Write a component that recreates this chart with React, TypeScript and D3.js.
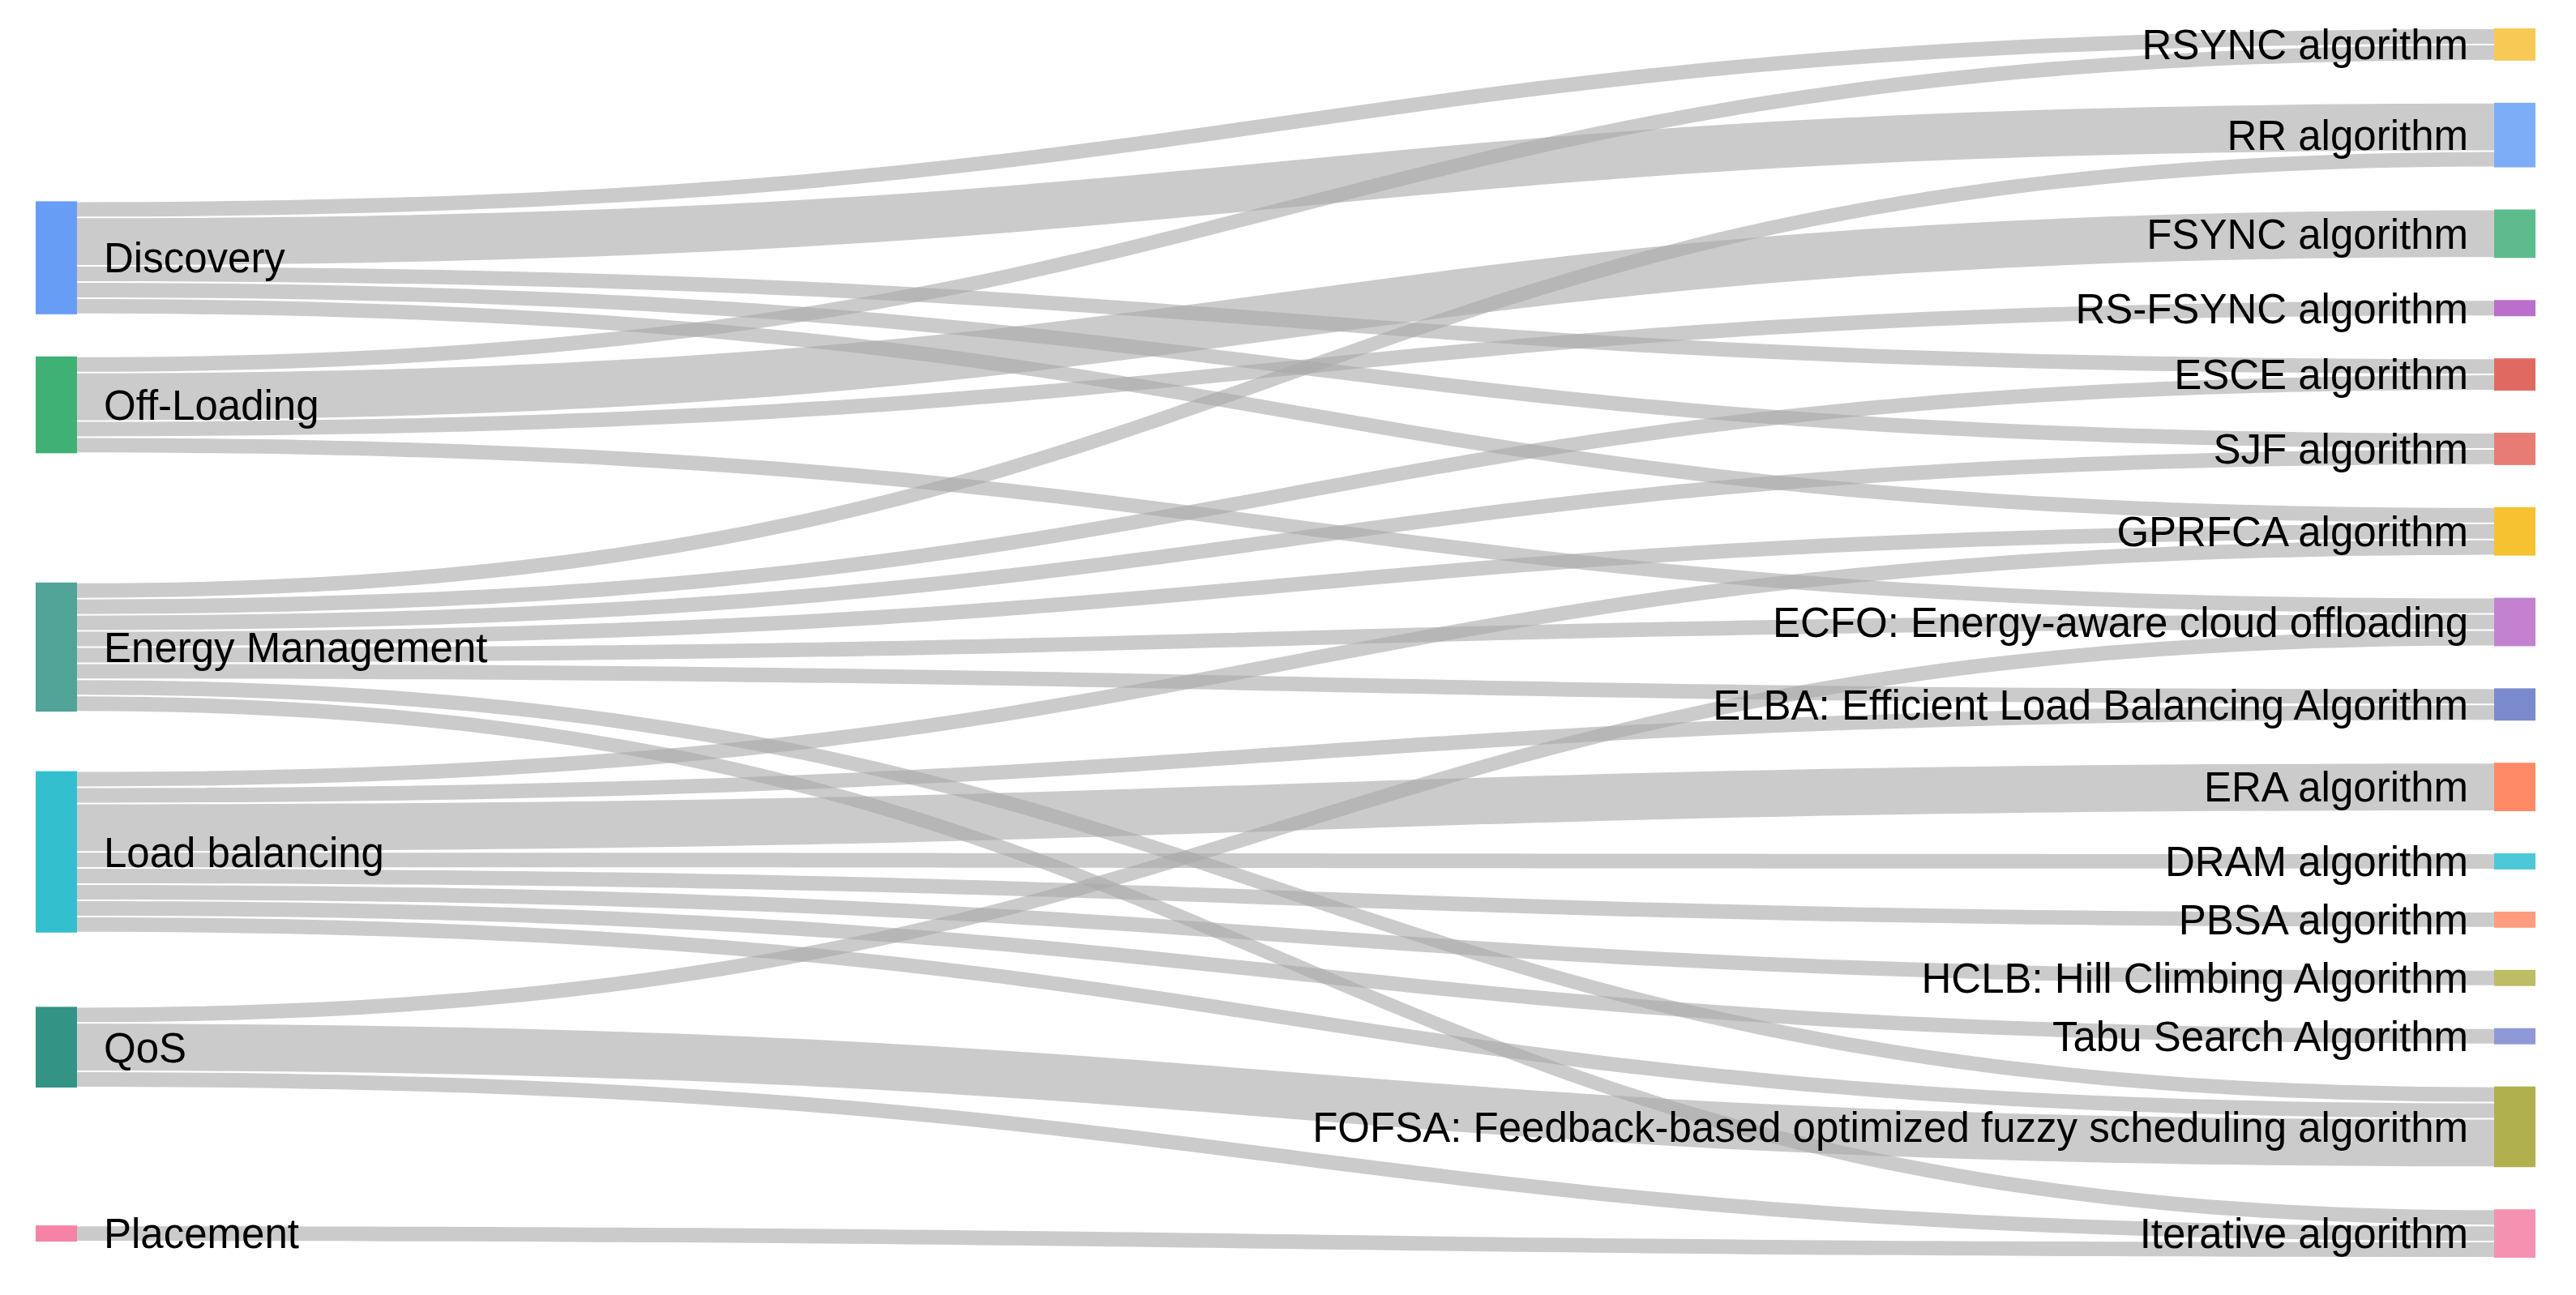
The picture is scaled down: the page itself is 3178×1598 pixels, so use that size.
import React from 'react'
import * as d3 from 'd3'

// left column (research areas)
const sources = ['Discovery', 'Off-Loading', 'Energy Management', 'Load balancing', 'QoS', 'Placement']
const sourceColors = ['#689df6', '#40b175', '#52a398', '#34bfcf', '#339384', '#f483a5']

// right column (algorithms)
const targets = [
    'RSYNC algorithm',
    'RR algorithm',
    'FSYNC algorithm',
    'RS-FSYNC algorithm',
    'ESCE algorithm',
    'SJF algorithm',
    'GPRFCA algorithm',
    'ECFO: Energy-aware cloud offloading',
    'ELBA: Efficient Load Balancing Algorithm',
    'ERA algorithm',
    'DRAM algorithm',
    'PBSA algorithm',
    'HCLB: Hill Climbing Algorithm',
    'Tabu Search Algorithm',
    'FOFSA: Feedback-based optimized fuzzy scheduling algorithm',
    'Iterative algorithm',
]
const targetColors = [
    '#f8ca55', '#7eadf7', '#5dbb8c', '#bb6ecb', '#e06a61', '#e67c74', '#f6c232', '#c381d0',
    '#7b8acc', '#ff8a66', '#4ec8d8', '#ff9c7f', '#bcbd64', '#8f99d8', '#b0b04f', '#f592b2',
]

// [source, target, count]
const flows: [string, string, number][] = [
    ['Discovery', 'RSYNC algorithm', 1],
    ['Discovery', 'RR algorithm', 3],
    ['Discovery', 'ESCE algorithm', 1],
    ['Discovery', 'SJF algorithm', 1],
    ['Discovery', 'GPRFCA algorithm', 1],
    ['Off-Loading', 'RSYNC algorithm', 1],
    ['Off-Loading', 'FSYNC algorithm', 3],
    ['Off-Loading', 'RS-FSYNC algorithm', 1],
    ['Off-Loading', 'ECFO: Energy-aware cloud offloading', 1],
    ['Energy Management', 'RR algorithm', 1],
    ['Energy Management', 'ESCE algorithm', 1],
    ['Energy Management', 'SJF algorithm', 1],
    ['Energy Management', 'GPRFCA algorithm', 1],
    ['Energy Management', 'ECFO: Energy-aware cloud offloading', 1],
    ['Energy Management', 'ELBA: Efficient Load Balancing Algorithm', 1],
    ['Energy Management', 'FOFSA: Feedback-based optimized fuzzy scheduling algorithm', 1],
    ['Energy Management', 'Iterative algorithm', 1],
    ['Load balancing', 'GPRFCA algorithm', 1],
    ['Load balancing', 'ELBA: Efficient Load Balancing Algorithm', 1],
    ['Load balancing', 'ERA algorithm', 3],
    ['Load balancing', 'DRAM algorithm', 1],
    ['Load balancing', 'PBSA algorithm', 1],
    ['Load balancing', 'HCLB: Hill Climbing Algorithm', 1],
    ['Load balancing', 'Tabu Search Algorithm', 1],
    ['Load balancing', 'FOFSA: Feedback-based optimized fuzzy scheduling algorithm', 1],
    ['QoS', 'ECFO: Energy-aware cloud offloading', 1],
    ['QoS', 'FOFSA: Feedback-based optimized fuzzy scheduling algorithm', 3],
    ['QoS', 'Iterative algorithm', 1],
    ['Placement', 'Iterative algorithm', 1],
]

const W = 3178
const H = 1598
const yTop = 35
const yBottom = 1552
const pad = 52
const nodeW = 51
const x = d3.scaleLinear().domain([0, 1]).range([44, 3077])

type Node = { name: string; color: string; x0: number; x1: number; y0: number; y1: number; value: number; side: number }

function layout() {
    const inSum = d3.rollup(flows, v => d3.sum(v, d => d[2]), d => d[1])
    const outSum = d3.rollup(flows, v => d3.sum(v, d => d[2]), d => d[0])
    const total = d3.sum(targets, t => inSum.get(t) || 0)
    const h = d3.scaleLinear().domain([0, total]).range([0, yBottom - yTop - (targets.length - 1) * pad])

    const nodes = new Map<string, Node>()
    let y = yTop
    targets.forEach((t, i) => {
        const v = inSum.get(t) || 0
        nodes.set(t, { name: t, color: targetColors[i], x0: x(1), x1: x(1) + nodeW, y0: y, y1: y + h(v), value: v, side: 1 })
        y += h(v) + pad
    })

    // left nodes sit at the weighted centre of their targets, then overlaps are pushed apart
    const left: Node[] = sources.map((s, i) => {
        const v = outSum.get(s) || 0
        const mine = flows.filter(f => f[0] === s)
        const c = d3.sum(mine, f => { const t = nodes.get(f[1])!; return (t.y0 + t.y1) / 2 * f[2] }) / v
        return { name: s, color: sourceColors[i], x0: x(0), x1: x(0) + nodeW, y0: c - h(v) / 2, y1: c + h(v) / 2, value: v, side: 0 }
    })
    left.sort((a, b) => a.y0 - b.y0)
    let prev = yTop - pad
    left.forEach(n => {
        const dy = prev + pad - n.y0
        if (dy > 0) { n.y0 += dy; n.y1 += dy }
        prev = n.y1
    })
    let next = yBottom + pad
    for (let i = left.length - 1; i >= 0; i--) {
        const n = left[i]
        const dy = n.y1 - (next - pad)
        if (dy > 0) { n.y0 -= dy; n.y1 -= dy }
        next = n.y0
    }
    left.forEach(n => nodes.set(n.name, n))

    const links = flows.map(f => ({ s: nodes.get(f[0])!, t: nodes.get(f[1])!, v: f[2], sy: 0, ty: 0 }))
    nodes.forEach(n => {
        let oy = n.y0
        links.filter(l => l.s === n).sort((a, b) => a.t.y0 - b.t.y0).forEach(l => { l.sy = oy; oy += h(l.v) })
        let iy = n.y0
        links.filter(l => l.t === n).sort((a, b) => a.s.y0 - b.s.y0).forEach(l => { l.ty = iy; iy += h(l.v) })
    })
    return { nodes: [...nodes.values()], links, h }
}

function linkPath(x0: number, x1: number, sy0: number, sy1: number, ty0: number, ty1: number) {
    const xm = d3.interpolateNumber(x0, x1)(0.5)
    const p = d3.path()
    p.moveTo(x0, sy0)
    p.bezierCurveTo(xm, sy0, xm, ty0, x1, ty0)
    p.lineTo(x1, ty1)
    p.bezierCurveTo(xm, ty1, xm, sy1, x0, sy1)
    p.closePath()
    return p.toString()
}

const App = () => {
    const { nodes, links, h } = layout()
    return (
        <div>
            <svg width={W} height={H} style={{ position: 'absolute', left: 0, top: 0, background: '#fff' }}>
                <g>
                    {links.map((l, i) => {
                        const w = h(l.v)
                        return (
                            <path key={i}
                                d={linkPath(l.s.x1, l.t.x0, l.sy + 1, l.sy + w - 1, l.ty + 1, l.ty + w - 1)}
                                fill="#a8a8a8" fillOpacity={0.6} />
                        )
                    })}
                </g>
                <g>
                    {nodes.map(n => (
                        <rect key={n.name} x={n.x0} y={n.y0} width={nodeW} height={n.y1 - n.y0} fill={n.color} />
                    ))}
                </g>
                <g style={{ fontFamily: 'Arial, "Liberation Sans", sans-serif', fontSize: 51 }} fill="#000">
                    {nodes.map(n => (
                        <text key={n.name}
                            x={n.side === 0 ? n.x1 + 33 : n.x0 - 32}
                            y={(n.y0 + n.y1) / 2}
                            dy="0.36em"
                            textAnchor={n.side === 0 ? 'start' : 'end'}>
                            {n.name}
                        </text>
                    ))}
                </g>
            </svg>
        </div>
    )
}

export default App
